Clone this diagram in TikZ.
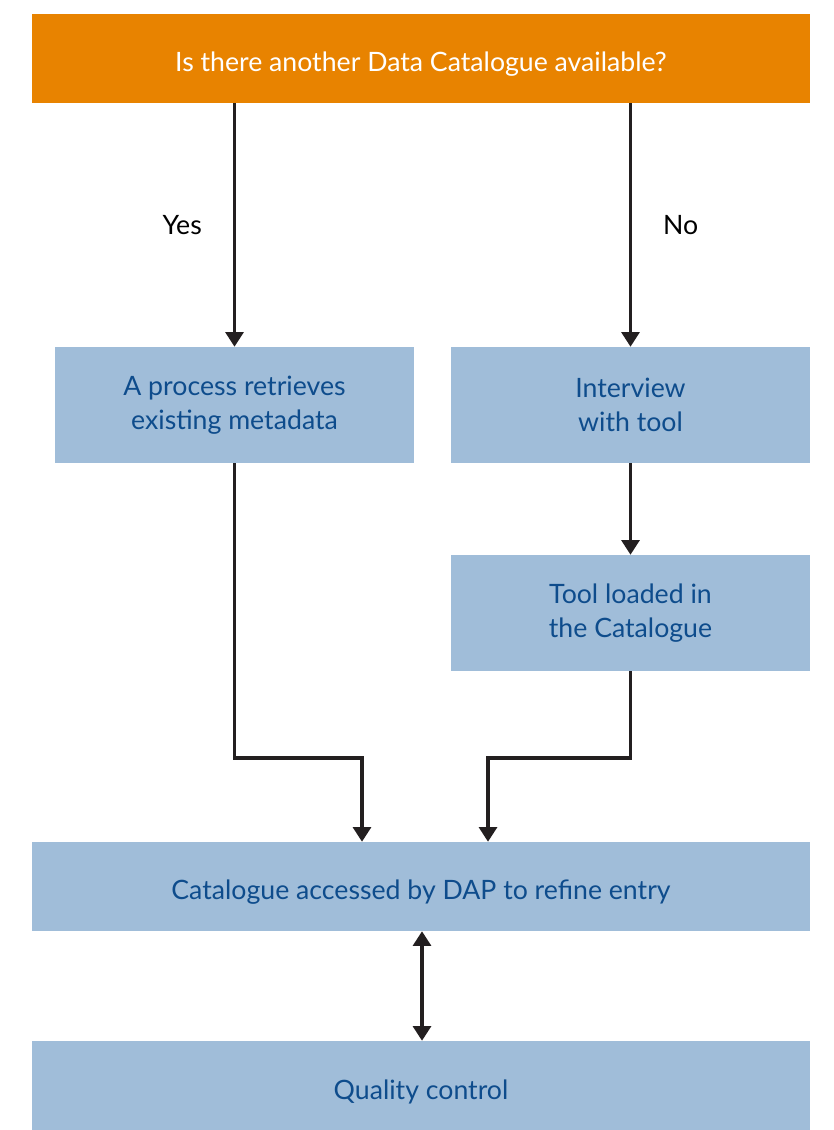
\documentclass[tikz,border=0pt]{standalone}
\usepackage{fontspec}
\setmainfont{Lato}
\usetikzlibrary{arrows.meta}
\definecolor{orangebox}{HTML}{E88300}
\definecolor{bluebox}{HTML}{A0BDD9}
\definecolor{bluetext}{HTML}{0E4C8C}
\definecolor{arrowc}{HTML}{231F20}
\newcommand{\lowertext}[1]{\raisebox{-4.5pt}[\height][\depth]{#1}}
\begin{document}
\begin{tikzpicture}[x=0.75pt,y=-0.75pt,
  box/.style={fill=bluebox,draw=none,text=bluetext,align=center,font=\fontsize{20}{25.5}\selectfont,inner sep=0pt},
  topbox/.style={fill=orangebox,draw=none,text=white,align=center,font=\fontsize{20}{25.5}\selectfont,inner sep=0pt},
  conn/.style={draw=arrowc,line width=2.3pt,-{Triangle[width=13.5pt,length=11pt]}},
  dconn/.style={draw=arrowc,line width=2.3pt,{Triangle[width=13.5pt,length=11pt]}-{Triangle[width=13.5pt,length=11pt]}},
  lbl/.style={text=black,font=\fontsize{20}{24}\selectfont}]
\useasboundingbox (0,0) rectangle (834,1130);
\node[topbox,minimum width=583.5pt,minimum height=66.75pt] (q) at (421,58.5) {\lowertext{Is there another Data Catalogue available?}};
\node[box,minimum width=269.25pt,minimum height=87pt] (a) at (234.5,405) {A process retrieves\\existing metadata};
\node[box,minimum width=269.25pt,minimum height=87pt] (b) at (630.5,405) {Interview\\with tool};
\node[box,minimum width=269.25pt,minimum height=87pt] (c) at (630.5,613) {Tool loaded in\\the Catalogue};
\node[box,minimum width=583.5pt,minimum height=66.75pt] (d) at (421,886.5) {\lowertext{Catalogue accessed by DAP to refine entry}};
\node[box,minimum width=583.5pt,minimum height=66.75pt] (e) at (421,1085.5) {\lowertext{Quality control}};
\coordinate (la) at (234.5,758);
\coordinate (lb) at (362,758);
\coordinate (ra) at (630.5,758);
\coordinate (rb) at (488,758);
\draw[conn] (q.south -| a) -- (a.north) node[pos=0.5,lbl,left=20pt] {Yes};
\draw[conn] (q.south -| b) -- (b.north) node[pos=0.5,lbl,right=20pt] {No};
\draw[conn] (b) -- (c);
\draw[conn] (a.south) -- (la) -- (lb) -- (lb |- d.north);
\draw[conn] (c.south) -- (ra) -- (rb) -- (rb |- d.north);
\draw[dconn] (d.south -| 422,0) -- (e.north -| 422,0);
\end{tikzpicture}
\end{document}
